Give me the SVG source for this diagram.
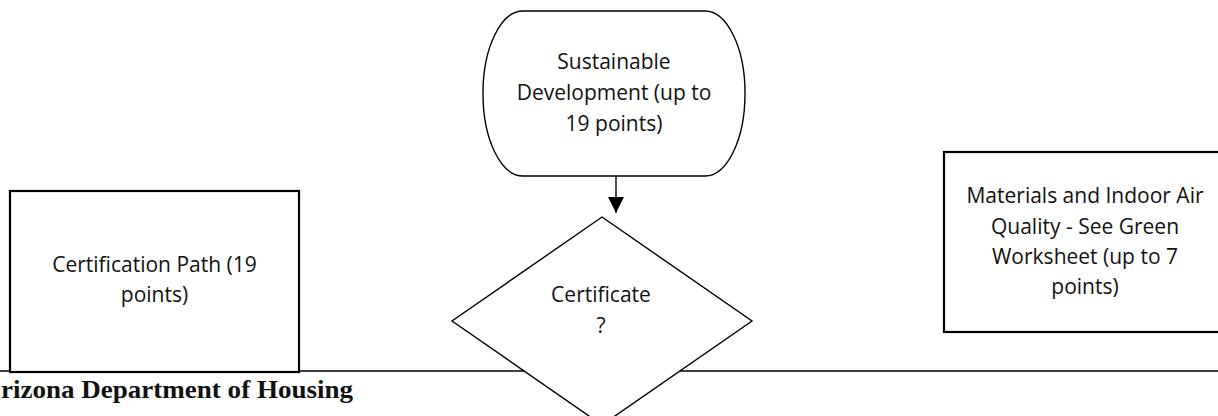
<svg xmlns="http://www.w3.org/2000/svg" width="1218" height="416" viewBox="0 0 1218 416">
<style>
.lbl{font-family:"Open Sans","Noto Sans",sans-serif;font-size:21px;fill:#111;text-anchor:middle}
.thin{fill:#fff;stroke:#000;stroke-width:1.4}
.thick{fill:#fff;stroke:#000;stroke-width:2.2}
.hdr{font-family:"Liberation Serif","DejaVu Serif",serif;font-weight:bold;font-size:25px;fill:#111}
</style>
<defs>
<marker id="ah" markerWidth="16" markerHeight="16" viewBox="0 0 16 16" refX="16" refY="8" orient="auto" markerUnits="userSpaceOnUse">
<path d="M0,0 L16,8 L0,16 Z" fill="#000"/>
</marker>
</defs>
<rect width="1218" height="416" fill="#fff"/>
<line x1="0" y1="371" x2="1218" y2="371" stroke="#000" stroke-width="1.4"/>
<text class="hdr" x="1" y="398" textLength="352" lengthAdjust="spacingAndGlyphs">rizona Department of Housing</text>
<g id="cert-path">
<rect class="thick" x="10" y="191" width="289" height="181"/>
<text class="lbl" x="154.5" y="272">Certification Path (19</text>
<text class="lbl" x="154.5" y="302">points)</text>
</g>
<g id="sustainable">
<rect class="thin" x="483" y="11" width="262" height="165" rx="40" ry="82"/>
<text class="lbl" x="614" y="69">Sustainable</text>
<text class="lbl" x="614" y="100">Development (up to</text>
<text class="lbl" x="614" y="131">19 points)</text>
</g>
<g id="certificate">
<polygon class="thin" points="602,217 752,321 602,425 452,321"/>
<text class="lbl" x="601" y="302">Certificate</text>
<text class="lbl" x="601" y="333">?</text>
</g>
<g id="materials">
<rect class="thick" x="944" y="152" width="290" height="180"/>
<text class="lbl" x="1085" y="203">Materials and Indoor Air</text>
<text class="lbl" x="1085" y="234">Quality - See Green</text>
<text class="lbl" x="1085" y="264">Worksheet (up to 7</text>
<text class="lbl" x="1085" y="294">points)</text>
</g>
<g id="connectors">
<line x1="616" y1="176" x2="616" y2="213" stroke="#000" stroke-width="1.4" marker-end="url(#ah)"/>
</g>
</svg>
